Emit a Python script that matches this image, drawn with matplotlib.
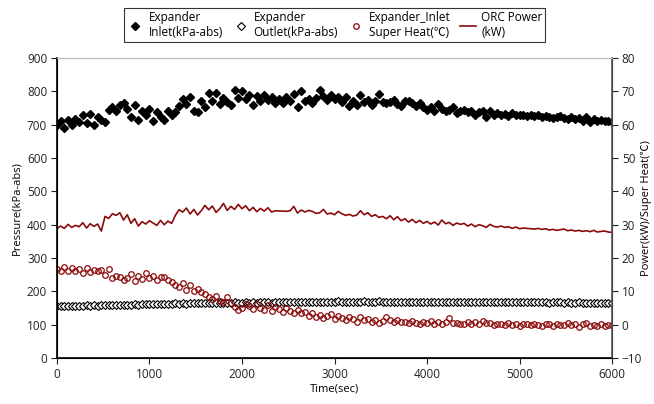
import numpy as np
import matplotlib
matplotlib.use("Agg")
import matplotlib.pyplot as plt

plt.rcParams['font.family'] = ['Open Sans', 'Noto Sans CJK KR', 'DejaVu Sans']

# time axis, one sample every 40 s
time_sec = list(range(0, 6001, 40))

# expander inlet pressure (kPa-abs)
inlet_kpa = [
    700, 712, 690, 713, 698, 716, 708, 728, 705, 732,
    698, 722, 715, 708, 745, 752, 740, 760, 765, 748,
    722, 758, 715, 740, 730, 748, 710, 738, 722, 715,
    742, 728, 738, 755, 778, 762, 782, 740, 738, 770,
    752, 795, 770, 795, 762, 780, 768, 758, 803, 780,
    802, 778, 790, 760, 785, 770, 790, 775, 782, 765,
    778, 765, 782, 770, 792, 752, 800, 770, 776, 765,
    780, 805, 785, 775, 790, 778, 782, 768, 782, 755,
    772, 758, 790, 768, 775, 760, 770, 792, 768, 765,
    768, 775, 762, 757, 770, 772, 764, 755, 765, 752,
    745, 752, 740, 762, 748, 742, 745, 752, 735, 740,
    745, 738, 742, 730, 738, 742, 722, 740, 728, 735,
    730, 732, 725, 735, 728, 730, 728, 725, 730, 726,
    728, 722, 726, 724, 720, 722, 725, 720, 718, 722,
    716, 720, 712, 722, 708, 718, 712, 715, 710, 712,
    708,
]

# expander outlet pressure (kPa-abs)
outlet_kpa = [
    155, 156, 155, 157, 156, 157, 156, 157, 158, 157,
    158, 157, 158, 159, 158, 159, 160, 159, 160, 160,
    160, 161, 160, 161, 162, 161, 162, 161, 162, 163,
    162, 163, 164, 163, 164, 163, 165, 164, 165, 164,
    165, 164, 165, 166, 165, 166, 165, 166, 167, 166,
    166, 167, 166, 167, 166, 167, 168, 167, 166, 167,
    168, 167, 168, 167, 168, 169, 168, 167, 168, 169,
    168, 169, 168, 169, 168, 169, 170, 169, 168, 169,
    169, 168, 169, 170, 169, 168, 169, 170, 169, 168,
    169, 168, 169, 168, 169, 168, 167, 168, 169, 168,
    168, 167, 168, 169, 168, 167, 168, 167, 168, 167,
    167, 168, 167, 168, 167, 168, 169, 168, 167, 168,
    168, 167, 168, 167, 168, 169, 168, 167, 168, 167,
    167, 168, 167, 166, 167, 168, 167, 166, 167, 166,
    166, 167, 166, 165, 166, 165, 166, 165, 164, 165,
    164,
]

# expander inlet super heat (C)
superheat_c = [
    16.8, 16.0, 17.3, 16.1, 17.0, 16.2, 16.8, 15.6, 16.9, 15.8,
    16.5, 16.0, 16.3, 15.0, 16.6, 13.9, 14.6, 14.2, 13.4, 14.0,
    15.3, 13.2, 14.5, 13.6, 15.4, 13.9, 14.6, 13.3, 14.3, 14.4,
    13.5, 12.8, 12.0, 11.2, 12.4, 10.4, 11.8, 10.0, 10.6, 9.8,
    9.2, 8.2, 7.6, 8.5, 7.2, 6.8, 8.3, 6.4, 5.4, 4.3,
    5.0, 6.1, 5.6, 4.6, 6.2, 5.1, 4.5, 5.8, 4.1, 5.2,
    4.6, 3.7, 4.9, 4.2, 3.5, 4.4, 3.4, 3.8, 2.6, 3.4,
    2.3, 2.8, 1.9, 2.6, 3.1, 1.6, 2.7, 2.1, 1.4, 2.4,
    1.8, 0.9, 2.2, 1.3, 1.7, 0.8, 1.5, 0.6, 1.2, 2.4,
    1.5, 0.8, 1.4, 0.7, 0.9, 0.4, 1.1, 0.6, 0.3, 0.9,
    0.5, 1.0, 0.2, 0.7, 0.1, 0.8, 1.9, 0.4, 0.6, 0.2,
    0.3, 0.7, 0.1, 0.9, 0.2, 1.1, 0.4, 0.6, 0.0, 0.3,
    0.2, -0.1, 0.4, 0.0, 0.3, -0.3, 0.2, 0.1, -0.2, 0.3,
    0.0, -0.4, 0.2, 0.1, -0.3, 0.3, -0.1, 0.0, 0.4, -0.2,
    0.3, -0.6, 0.1, 0.4, -0.5, 0.0, -0.3, 0.2, -0.4, -0.1,
    -0.2,
]

# ORC power (kW)
power_kw = [
    28.8, 29.6, 28.9, 30.1, 29.2, 29.8, 29.4, 30.6, 29.0, 30.3,
    29.5, 30.2, 28.1, 32.5, 31.9, 33.3, 32.8, 33.6, 31.4, 33.0,
    30.4, 31.8, 29.6, 30.9, 30.2, 31.2, 30.5, 29.8, 31.3, 30.0,
    31.1, 30.4, 32.8, 34.5, 33.8, 35.0, 33.2, 34.6, 32.9, 34.2,
    35.8, 34.5, 35.6, 33.7, 34.8, 36.4, 34.3, 35.5, 34.6, 36.1,
    34.8, 35.7, 34.2, 35.2, 33.9, 34.9, 34.1, 35.1, 33.8, 34.2,
    34.1, 34.1, 34.0, 34.2, 35.5, 33.5, 34.4, 33.8, 34.3, 34.0,
    33.4, 33.6, 34.6, 33.2, 33.5, 33.0, 34.0, 33.3, 32.8, 33.1,
    32.6, 32.9, 34.2, 33.0, 33.6, 32.5, 33.0, 32.2, 32.5, 31.8,
    32.7, 31.5, 32.4, 31.2, 31.8, 30.8, 31.6, 30.6, 31.3, 30.4,
    31.0, 30.2, 30.8, 29.9, 31.4, 30.3, 30.7, 29.8, 30.5, 30.1,
    30.4, 29.6, 30.2, 29.4, 30.0, 29.7, 29.2, 30.1, 29.5, 29.3,
    29.6, 29.2, 29.4, 28.9, 29.3, 28.8, 29.0, 28.9, 28.8, 28.7,
    28.9, 28.6, 28.8, 28.4, 28.6, 28.3, 28.5, 28.7, 28.2, 28.4,
    28.1, 28.3, 28.0, 28.2, 27.9, 28.3, 27.8, 28.0, 28.1, 27.8,
    27.7,
]

dark_red = '#8b0a0a'

fig = plt.figure(figsize=(6.54, 4.04), dpi=100)
ax = fig.add_axes([0.087, 0.114, 0.849, 0.742])
ax2 = ax.twinx()

h1, = ax.plot(time_sec, inlet_kpa, linestyle='none', marker='D', markersize=3.6,
              color='black', label='Expander\nInlet(kPa-abs)')
h2, = ax.plot(time_sec, outlet_kpa, linestyle='none', marker='D', markersize=3.6,
              markerfacecolor='white', markeredgecolor='black', markeredgewidth=0.8,
              label='Expander\nOutlet(kPa-abs)')
h3, = ax2.plot(time_sec, superheat_c, linestyle='none', marker='o', markersize=4,
               markerfacecolor='none', markeredgecolor=dark_red, markeredgewidth=0.9,
               label='Expander_Inlet\nSuper Heat(℃)')
h4, = ax2.plot(time_sec, power_kw, color=dark_red, linewidth=1.2,
               label='ORC Power\n(kW)')

ax.set_xlim(0, 6000)
ax.set_ylim(0, 900)
ax2.set_ylim(-10, 80)
ax.set_xticks(np.arange(0, 6001, 1000))
ax.set_yticks(np.arange(0, 901, 100))
ax2.set_yticks(np.arange(-10, 81, 10))

for a in (ax, ax2):
    a.tick_params(direction='out', length=4, width=0.8, labelsize=8.5,
                  colors='#222222', pad=3)
    a.spines['top'].set_color('#bbbbbb')
ax.spines['left'].set_color('black')
ax.spines['bottom'].set_color('black')
ax2.spines['right'].set_color('#555555')
ax2.spines['right'].set_linewidth(1.2)
ax.spines['left'].set_linewidth(1.2)
ax.spines['bottom'].set_linewidth(1.2)

ax.set_xlabel('Time(sec)', fontsize=8, labelpad=2)
ax.set_ylabel('Pressure(kPa-abs)', fontsize=8, labelpad=3)
ax2.set_ylabel('Power(kW)/Super Heat(℃)', fontsize=8)
ax2.yaxis.set_label_coords(1.052, 0.5)

leg = fig.legend(handles=[h1, h2, h3, h4], loc='upper center', ncol=4,
                 bbox_to_anchor=(0.512, 0.985), fontsize=8.5, frameon=True,
                 fancybox=False, edgecolor='black', handlelength=1.4,
                 handletextpad=0.4, columnspacing=0.8, borderpad=0.25,
                 labelspacing=0.2, borderaxespad=0.2)
leg.get_frame().set_linewidth(0.8)

fig.savefig('out.png', dpi=100)
